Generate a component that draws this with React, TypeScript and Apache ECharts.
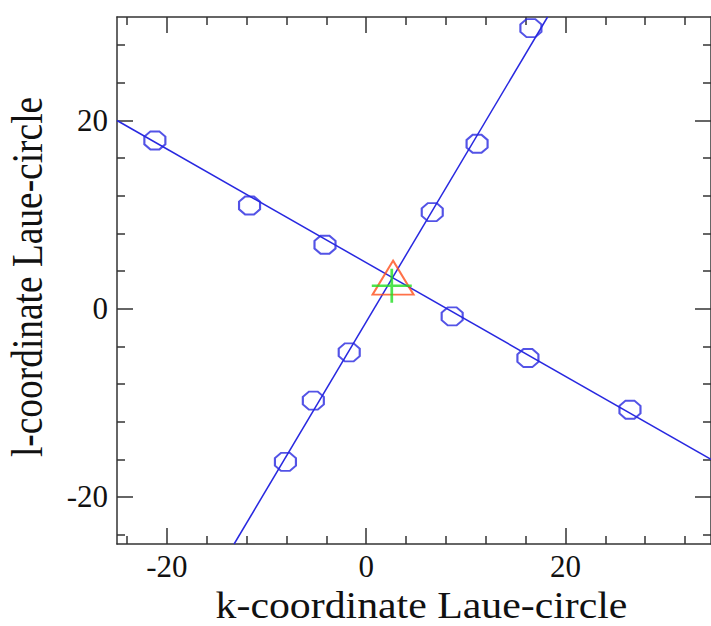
import React, { useEffect, useRef } from "react";
import * as echarts from "echarts";

// Axis extents and ticks
const xRange = [-25, 34.6];
const yRange = [-25, 31];
const xMajor = [-20, 0, 20];
const xMinor = [-24, -16, -12, -8, -4, 4, 8, 12, 16, 24, 28, 32];
const yMajor = [-20, 0, 20];
const yMinor = [-24, -16, -12, -8, -4, 4, 8, 12, 16, 24, 28];

// Fitted lines (end points)
const lineA = [[-25, 20.0], [34.6, -16.0]];
const lineB = [[-13.25, -25], [18.2, 31]];

// Measured reflections (k, l)
const pointsA = [
  [-21.2, 17.88],
  [-11.7, 10.97],
  [-4.13, 6.8],
  [8.63, -0.82],
  [16.23, -5.24],
  [26.47, -10.73],
];
const pointsB = [
  [-8.1, -16.28],
  [-5.3, -9.77],
  [-1.7, -4.64],
  [6.63, 10.27],
  [11.13, 17.53],
  [16.53, 29.81],
];

// Centre estimates
const triangleCenter = [[2.7, 3.3]];
const crossCenter = [[2.57, 2.44]];

const xTitle = "k-coordinate Laue-circle";
const yTitle = "l-coordinate Laue-circle";

const FONT = "Liberation Serif";
const AXIS_COLOR = "#333";
const BLUE = "#2828e0";

function xAxisDef(position: "bottom" | "top", major: boolean) {
  return {
    type: "value",
    position,
    min: xRange[0],
    max: xRange[1],
    axisLine: { show: major, onZero: false, lineStyle: { color: AXIS_COLOR, width: 1.5 } },
    axisTick: {
      show: true,
      inside: true,
      length: major ? 16 : 8,
      customValues: major ? xMajor : xMinor,
      lineStyle: { color: AXIS_COLOR, width: 1.5 },
    },
    axisLabel: {
      show: major && position === "bottom",
      customValues: xMajor,
      fontFamily: FONT,
      fontSize: 31,
      color: "#111",
      margin: 7,
    },
    splitLine: { show: false },
  };
}

function yAxisDef(position: "left" | "right", major: boolean) {
  return {
    type: "value",
    position,
    min: yRange[0],
    max: yRange[1],
    axisLine: { show: major, onZero: false, lineStyle: { color: AXIS_COLOR, width: 1.5 } },
    axisTick: {
      show: true,
      inside: true,
      length: major ? 16 : 8,
      customValues: major ? yMajor : yMinor,
      lineStyle: { color: AXIS_COLOR, width: 1.5 },
    },
    axisLabel: {
      show: major && position === "left",
      customValues: yMajor,
      fontFamily: FONT,
      fontSize: 31,
      color: "#111",
      margin: 9,
    },
    splitLine: { show: false },
  };
}

const OCTAGON = "path://M29,0 L71,0 L100,29 L100,71 L71,100 L29,100 L0,71 L0,29 Z";
const CROSS = "path://M0,50 L100,50 M50,0 L50,100";

export default function App() {
  const ref = useRef<HTMLDivElement>(null);
  useEffect(() => {
    if (!ref.current) return;
    const chart = echarts.init(ref.current, undefined, { renderer: "svg" });
    const markerStyle = {
      color: "transparent",
      borderColor: BLUE,
      borderWidth: 2,
    };
    chart.setOption({
      animation: false,
      backgroundColor: "#fff",
      grid: { left: 117, top: 17, right: -2, bottom: 82, containLabel: false },
      xAxis: [
        xAxisDef("bottom", true),
        xAxisDef("bottom", false),
        xAxisDef("top", true),
        xAxisDef("top", false),
      ],
      yAxis: [
        yAxisDef("left", true),
        yAxisDef("left", false),
        yAxisDef("right", true),
        yAxisDef("right", false),
      ],
      series: [
        {
          type: "line",
          data: lineA,
          symbol: "none",
          lineStyle: { color: BLUE, width: 1.5 },
          clip: true,
          z: 2,
        },
        {
          type: "line",
          data: lineB,
          symbol: "none",
          lineStyle: { color: BLUE, width: 1.5 },
          clip: true,
          z: 2,
        },
        {
          type: "scatter",
          data: pointsA,
          symbol: OCTAGON,
          symbolSize: [21, 18],
          itemStyle: markerStyle,
          z: 3,
        },
        {
          type: "scatter",
          data: pointsB,
          symbol: OCTAGON,
          symbolSize: [21, 18],
          itemStyle: markerStyle,
          z: 3,
        },
        {
          type: "scatter",
          data: triangleCenter,
          symbol: "triangle",
          symbolSize: [41, 34],
          itemStyle: { color: "transparent", borderColor: "#ff4d1a", borderWidth: 2 },
          z: 4,
        },
        {
          type: "scatter",
          data: crossCenter,
          symbol: CROSS,
          symbolSize: [40, 34],
          itemStyle: { color: "transparent", borderColor: "#22dd22", borderWidth: 2.5 },
          z: 5,
        },
      ],
      graphic: [
        {
          type: "text",
          x: 421.5,
          y: 605,
          scaleX: 1.1,
          style: {
            text: xTitle,
            fontFamily: FONT,
            fontSize: 38,
            fill: "#111",
            align: "center",
            verticalAlign: "middle",
            textAlign: "center",
            textVerticalAlign: "middle",
          },
        },
        {
          type: "text",
          x: 27,
          y: 277,
          rotation: Math.PI / 2,
          scaleX: 0.85,
          style: {
            text: yTitle,
            fontFamily: FONT,
            fontSize: 44,
            fill: "#111",
            align: "center",
            verticalAlign: "middle",
            textAlign: "center",
            textVerticalAlign: "middle",
          },
        },
      ],
    });
    return () => chart.dispose();
  }, []);
  return (
    <div
      ref={ref}
      style={{ position: "absolute", left: 0, top: 0, width: 711, height: 626 }}
    />
  );
}
